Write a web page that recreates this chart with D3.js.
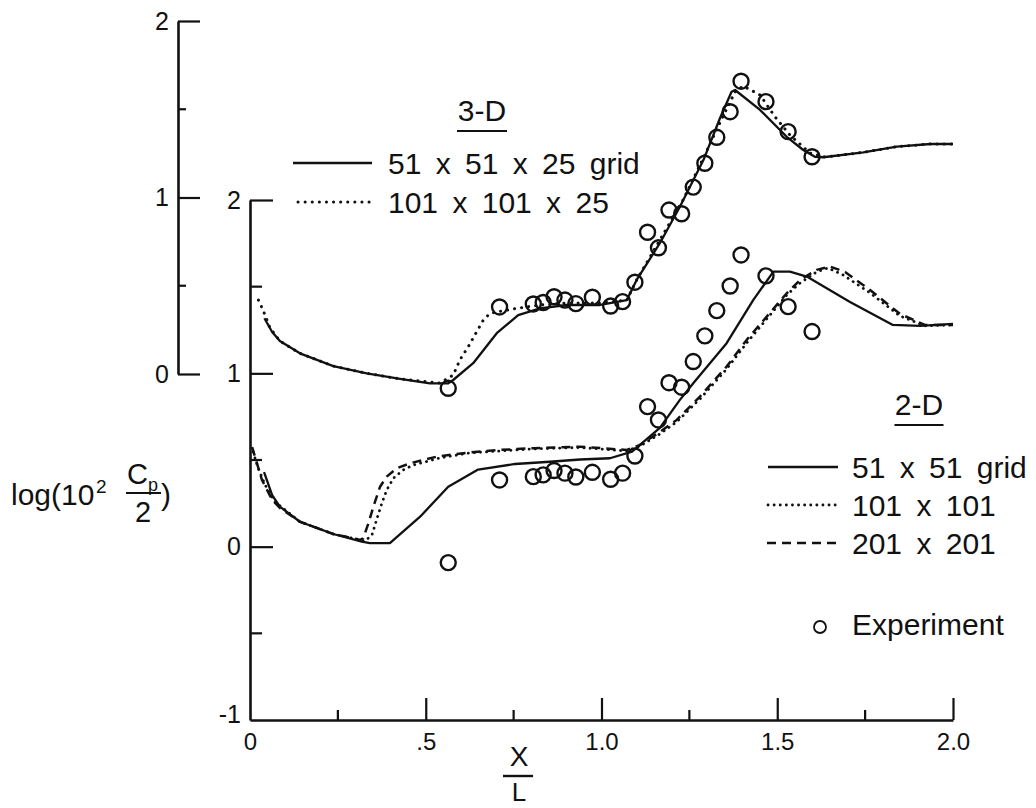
<!DOCTYPE html>
<html>
<head>
<meta charset="utf-8">
<script src="https://cdn.jsdelivr.net/npm/d3@7"></script>
<style>
  html, body { margin: 0; padding: 0; background: #fff; }
  svg { display: block; }
  text { font-family: "Liberation Sans", Arial, Helvetica, sans-serif; fill: #111; }
</style>
</head>
<body>
<svg id="chart" width="1036" height="808"></svg>
<script>
// ---- Experimental pressure data (X/L and log(10^2 Cp/2)) ----
const expX  = [0.564, 0.710, 0.806, 0.834, 0.865, 0.896, 0.927, 0.974, 1.026, 1.060, 1.095, 1.131,
               1.162, 1.192, 1.228, 1.261, 1.294, 1.328, 1.366, 1.397, 1.468, 1.531, 1.599];
const exp3D = [-0.081, 0.380, 0.397, 0.405, 0.438, 0.419, 0.399, 0.435, 0.385, 0.410, 0.520, 0.803,
               0.715, 0.929, 0.908, 1.059, 1.194, 1.341, 1.486, 1.659, 1.543, 1.373, 1.231];
const exp2D = [-0.092, 0.385, 0.404, 0.414, 0.439, 0.424, 0.402, 0.429, 0.389, 0.424, 0.523, 0.808,
               0.731, 0.946, 0.920, 1.068, 1.216, 1.362, 1.504, 1.683, 1.562, 1.385, 1.241];

// ---- 3-D computations ----
const grid3D_51 = [[0.041,0.316],[0.063,0.238],[0.085,0.187],[0.142,0.117],[0.237,0.045],[0.332,0.004],
  [0.427,-0.028],[0.512,-0.053],[0.564,-0.053],[0.578,-0.034],[0.635,0.061],[0.702,0.231],[0.763,0.334],
  [0.825,0.372],[0.901,0.391],[0.996,0.391],[1.072,0.419],[1.100,0.533],[1.166,0.741],[1.223,0.948],
  [1.290,1.212],[1.337,1.449],[1.370,1.599],[1.380,1.609],[1.451,1.496],[1.527,1.344],[1.574,1.269],
  [1.607,1.231],[1.631,1.228],[1.745,1.256],[1.840,1.288],[1.935,1.303],[2.000,1.303]];
const grid3D_101 = [[0.024,0.419],[0.037,0.363],[0.057,0.261],[0.085,0.187],[0.142,0.117],[0.237,0.045],
  [0.332,0.004],[0.427,-0.028],[0.541,-0.051],[0.578,-0.006],[0.597,0.079],[0.621,0.155],[0.645,0.240],
  [0.664,0.306],[0.683,0.344],[0.759,0.372],[0.825,0.391],[0.901,0.402],[0.996,0.402],[1.072,0.419],
  [1.100,0.533],[1.166,0.759],[1.232,0.986],[1.294,1.241],[1.343,1.450],[1.380,1.598],[1.403,1.632],
  [1.451,1.581],[1.494,1.456],[1.536,1.354],[1.593,1.252],[1.636,1.229],[1.745,1.256],[1.840,1.288],
  [1.935,1.303],[2.000,1.303]];

// ---- 2-D computations ----
const grid2D_51 = [[0.040,0.430],[0.063,0.298],[0.085,0.231],[0.142,0.144],[0.237,0.073],[0.318,0.029],
  [0.341,0.021],[0.398,0.020],[0.484,0.173],[0.564,0.346],[0.649,0.445],[0.754,0.477],[0.853,0.490],
  [0.939,0.503],[1.024,0.510],[1.087,0.548],[1.166,0.685],[1.223,0.847],[1.261,0.943],[1.356,1.174],
  [1.432,1.424],[1.489,1.587],[1.536,1.587],[1.584,1.558],[1.707,1.412],[1.829,1.279],[1.906,1.274],
  [2.000,1.285]];
const grid2D_101 = [[0.009,0.546],[0.023,0.454],[0.043,0.356],[0.071,0.258],[0.100,0.212],[0.142,0.144],
  [0.237,0.073],[0.327,0.033],[0.347,0.067],[0.360,0.154],[0.375,0.250],[0.389,0.327],[0.408,0.395],
  [0.436,0.443],[0.465,0.471],[0.541,0.512],[0.626,0.541],[0.711,0.552],[0.806,0.564],[0.939,0.572],
  [1.072,0.552],[1.110,0.581],[1.166,0.650],[1.214,0.720],[1.280,0.852],[1.356,1.025],[1.413,1.175],
  [1.470,1.314],[1.527,1.452],[1.565,1.521],[1.612,1.585],[1.644,1.608],[1.687,1.568],[1.764,1.464],
  [1.849,1.331],[1.920,1.274],[2.000,1.279]];
const grid2D_201 = [[0.006,0.575],[0.017,0.500],[0.034,0.385],[0.063,0.270],[0.085,0.223],[0.142,0.144],
  [0.237,0.073],[0.313,0.039],[0.322,0.048],[0.337,0.135],[0.351,0.231],[0.370,0.346],[0.389,0.404],
  [0.417,0.452],[0.455,0.481],[0.531,0.519],[0.617,0.542],[0.711,0.558],[0.806,0.568],[0.939,0.577],
  [1.072,0.558],[1.110,0.587],[1.166,0.662],[1.214,0.731],[1.280,0.866],[1.356,1.039],[1.413,1.193],
  [1.470,1.327],[1.527,1.462],[1.565,1.539],[1.612,1.597],[1.650,1.616],[1.693,1.585],[1.764,1.481],
  [1.849,1.343],[1.920,1.279],[2.000,1.279]];

// ---- Axes ticks and labels ----
const xTicks = [0, 0.5, 1.0, 1.5, 2.0];
const xTickLabels = ["0", ".5", "1.0", "1.5", "2.0"];
const xMinorTicks = [0.25, 0.75, 1.25, 1.75];
const y2Ticks = [-1, 0, 1, 2];
const y2TickLabels = ["-1", "0", "1", "2"];
const y2MinorTicks = [-0.5, 0.5, 1.5];
const y3Ticks = [0, 1, 2];
const y3TickLabels = ["0", "1", "2"];
const y3MinorTicks = [0.5, 1.5];

// ---- Legend text ----
const legend3DTitle = "3-D";
const legend3DLabels = ["51 x 51 x 25 grid", "101 x 101 x 25"];
const legend2DTitle = "2-D";
const legend2DLabels = ["51 x 51 grid", "101 x 101", "201 x 201"];
const expLabel = "Experiment";

const INK = "#111";
const svg = d3.select("#chart");

const x  = d3.scaleLinear().domain([0, 2]).range([250, 953]);
const y2 = d3.scaleLinear().domain([-1, 2]).range([720, 200]);
const y3 = d3.scaleLinear().domain([0, 2]).range([374, 21]);

function styleAxis(g, fontSize) {
  g.attr("font-family", null).attr("font-size", null);
  g.select(".domain").attr("stroke", INK).attr("stroke-width", 2.6);
  g.selectAll(".tick line").attr("stroke", INK).attr("stroke-width", 2.2);
  g.selectAll(".tick text").style("font-size", fontSize + "px").attr("fill", INK);
}

// bottom axis (ticks point up into the plot)
const gx = svg.append("g").attr("transform", "translate(0,720)")
  .call(d3.axisBottom(x).tickValues(xTicks).tickSizeInner(-22).tickSizeOuter(0).tickPadding(13)
    .tickFormat((d, i) => xTickLabels[i]));
styleAxis(gx, 24);
gx.selectAll(".tick").filter(d => d === 0).select("line").remove();
gx.selectAll(".minor").data(xMinorTicks).join("line")
  .attr("x1", d => x(d)).attr("x2", d => x(d)).attr("y1", 0).attr("y2", -10)
  .attr("stroke", INK).attr("stroke-width", 2.2);

// lower (2-D) vertical axis
const gy2 = svg.append("g").attr("transform", `translate(${x(0)},0)`)
  .call(d3.axisLeft(y2).tickValues(y2Ticks).tickSizeInner(-23).tickSizeOuter(0).tickPadding(9)
    .tickFormat((d, i) => y2TickLabels[i]));
styleAxis(gy2, 25);
gy2.selectAll(".tick").filter(d => d === -1).select("line").remove();
gy2.selectAll(".tick").filter(d => d === -1).select("text").attr("y", -6);
gy2.selectAll(".minor").data(y2MinorTicks).join("line")
  .attr("x1", 0).attr("x2", 12).attr("y1", d => y2(d)).attr("y2", d => y2(d))
  .attr("stroke", INK).attr("stroke-width", 2.2);

// upper (3-D) vertical axis
const gy3 = svg.append("g").attr("transform", "translate(178,0)")
  .call(d3.axisLeft(y3).tickValues(y3Ticks).tickSizeInner(-22).tickSizeOuter(0).tickPadding(9)
    .tickFormat((d, i) => y3TickLabels[i]));
styleAxis(gy3, 25);
gy3.selectAll(".minor").data(y3MinorTicks).join("line")
  .attr("x1", 0).attr("x2", 8).attr("y1", d => y3(d)).attr("y2", d => y3(d))
  .attr("stroke", INK).attr("stroke-width", 2.2);

// line styles
const styles = {
  solid:  { dash: null, width: 2.3, cap: "butt" },
  dotted: { dash: "0.1 7", width: 3, cap: "round" },
  dotted2:{ dash: "0.1 6", width: 2.8, cap: "round" },
  dashed: { dash: "9 6", width: 2.5, cap: "butt" }
};

function drawCurve(data, yScale, st) {
  const line = d3.line().x(d => x(d[0])).y(d => yScale(d[1]));
  svg.append("path").datum(data)
    .attr("d", line)
    .attr("fill", "none")
    .attr("stroke", INK)
    .attr("stroke-width", st.width)
    .attr("stroke-linecap", st.cap)
    .attr("stroke-linejoin", "round")
    .attr("stroke-dasharray", st.dash);
}

drawCurve(grid3D_101, y3, styles.dotted);
drawCurve(grid3D_51, y3, styles.solid);
drawCurve(grid2D_201, y2, styles.dashed);
drawCurve(grid2D_101, y2, styles.dotted2);
drawCurve(grid2D_51, y2, styles.solid);

// experiment symbols
function drawExp(vals, yScale) {
  svg.append("g").selectAll("circle").data(vals).join("circle")
    .attr("cx", (d, i) => x(expX[i]))
    .attr("cy", d => yScale(d))
    .attr("r", 7.5)
    .attr("fill", "none")
    .attr("stroke", INK)
    .attr("stroke-width", 2.4);
}
drawExp(exp3D, y3);
drawExp(exp2D, y2);

// ---- legends ----
function underlinedTitle(txt, cx, baseline, w) {
  svg.append("text").attr("x", cx).attr("y", baseline).attr("text-anchor", "middle")
    .style("font-size", "30px").text(txt);
  svg.append("line").attr("x1", cx - w / 2).attr("x2", cx + w / 2)
    .attr("y1", baseline + 10).attr("y2", baseline + 10)
    .attr("stroke", INK).attr("stroke-width", 2);
}
function legendRow(st, x1, x2, ly, label, tx) {
  svg.append("line").attr("x1", x1).attr("x2", x2).attr("y1", ly).attr("y2", ly)
    .attr("stroke", INK).attr("stroke-width", st.width)
    .attr("stroke-linecap", st.cap).attr("stroke-dasharray", st.dash);
  svg.append("text").attr("x", tx).attr("y", ly + 11)
    .style("font-size", "30px").style("word-spacing", "6px").text(label);
}

underlinedTitle(legend3DTitle, 482, 121, 50);
legendRow(styles.solid, 293, 372, 163, legend3DLabels[0], 388);
legendRow(styles.dotted, 298, 372, 202, legend3DLabels[1], 388);

underlinedTitle(legend2DTitle, 919, 415, 49);
legendRow(styles.solid, 768, 838, 467, legend2DLabels[0], 852);
legendRow(styles.dotted2, 768, 838, 505, legend2DLabels[1], 852);
legendRow(styles.dashed, 767, 838, 543, legend2DLabels[2], 852);
svg.append("circle").attr("cx", 820).attr("cy", 627).attr("r", 6)
  .attr("fill", "none").attr("stroke", INK).attr("stroke-width", 1.8);
svg.append("text").attr("x", 852).attr("y", 635).style("font-size", "30px").text(expLabel);

// ---- axis titles ----
// X over L
svg.append("text").attr("x", 519).attr("y", 766).attr("text-anchor", "middle")
  .style("font-size", "28px").text("X");
svg.append("line").attr("x1", 503).attr("x2", 533).attr("y1", 776).attr("y2", 776)
  .attr("stroke", INK).attr("stroke-width", 2.4);
svg.append("text").attr("x", 519).attr("y", 801).attr("text-anchor", "middle")
  .style("font-size", "26px").text("L");

// log(10^2 Cp/2)
const yl = svg.append("g");
yl.append("text").attr("x", 11).attr("y", 505).style("font-size", "30px").text("log(10");
yl.append("text").attr("x", 96).attr("y", 493).style("font-size", "19px").text("2");
yl.append("text").attr("x", 127).attr("y", 484).style("font-size", "29px").text("C");
yl.append("text").attr("x", 148).attr("y", 491).style("font-size", "18px").text("p");
yl.append("line").attr("x1", 126).attr("x2", 161).attr("y1", 493).attr("y2", 493)
  .attr("stroke", INK).attr("stroke-width", 2);
yl.append("text").attr("x", 143).attr("y", 522).attr("text-anchor", "middle")
  .style("font-size", "29px").text("2");
yl.append("text").attr("x", 161).attr("y", 505).style("font-size", "30px").text(")");
</script>
</body>
</html>
